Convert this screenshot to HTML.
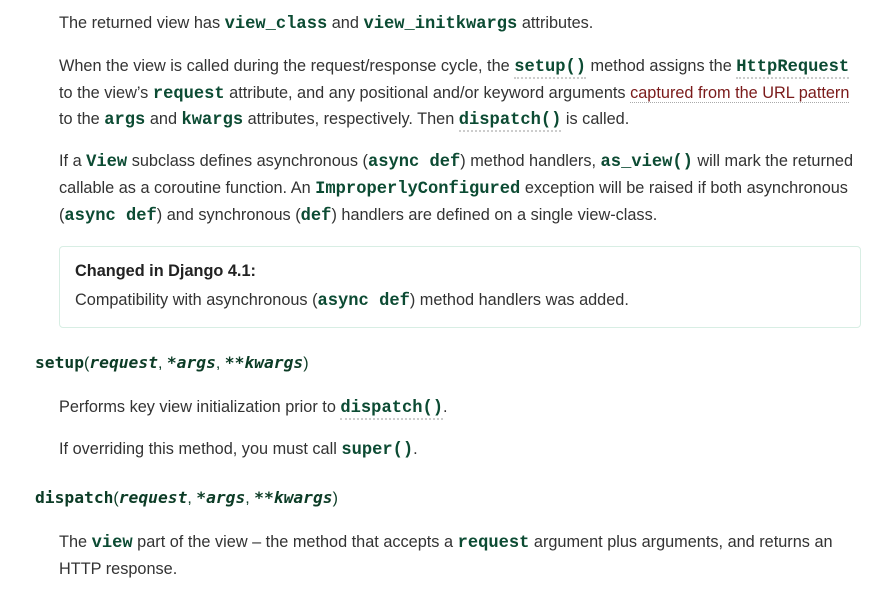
<!DOCTYPE html>
<html><head><meta charset="utf-8"><style>
body{margin:0;width:880px;height:594px;background:#fff;position:relative;overflow:hidden;font-family:"Liberation Sans",sans-serif;font-size:16.3px;color:#333}
.l{position:absolute;white-space:nowrap;line-height:20px}
code{font-family:"Liberation Mono","DejaVu Sans Mono",monospace;font-weight:bold;color:#0c4b33;font-size:17.1px}
.u{border-bottom:2px dotted #ccc}
a{color:#7a1a1a;text-decoration:none;border-bottom:1px dotted #aaa}
.box{position:absolute;left:59px;top:246px;width:800px;height:80px;border:1px solid #d8eee4;border-radius:4px}
.h{font-family:"DejaVu Sans Mono",monospace;font-weight:bold;color:#0c3c26;font-size:16.3px}
.h i{font-style:italic}
.h .s{font-family:"Liberation Sans",sans-serif;font-weight:normal;font-size:16px}
</style></head><body>
<div class="l" style="left:59px;top:13px">The returned view has <code>view_class</code> and <code>view_initkwargs</code> attributes.</div>
<div class="l" style="left:59px;top:56px">When the view is called during the request/response cycle, the <code class="u">setup()</code> method assigns the <code class="u">HttpRequest</code></div>
<div class="l" style="left:59px;top:83px">to the view’s <code>request</code> attribute, and any positional and/or keyword arguments <a>captured from the URL pattern</a></div>
<div class="l" style="left:59px;top:109px">to the <code>args</code> and <code>kwargs</code> attributes, respectively. Then <code class="u">dispatch()</code> is called.</div>
<div class="l" style="left:59px;top:151px">If a <code>View</code> subclass defines asynchronous (<code>async def</code>) method handlers, <code>as_view()</code> will mark the returned</div>
<div class="l" style="left:59px;top:178px">callable as a coroutine function. An <code>ImproperlyConfigured</code> exception will be raised if both asynchronous</div>
<div class="l" style="left:59px;top:205px">(<code>async def</code>) and synchronous (<code>def</code>) handlers are defined on a single view-class.</div>
<div class="box"></div>
<div class="l" style="left:75px;top:261px;font-weight:bold;color:#222">Changed in Django 4.1:</div>
<div class="l" style="left:75px;top:290px">Compatibility with asynchronous (<code>async def</code>) method handlers was added.</div>
<div class="l h" style="left:35px;top:353px">setup<span class="s">(</span><i>request</i><span class="s">, </span><i>*args</i><span class="s">, </span><i>**kwargs</i><span class="s">)</span></div>
<div class="l" style="left:59px;top:397px">Performs key view initialization prior to <code class="u">dispatch()</code>.</div>
<div class="l" style="left:59px;top:439px">If overriding this method, you must call <code>super()</code>.</div>
<div class="l h" style="left:35px;top:488px">dispatch<span class="s">(</span><i>request</i><span class="s">, </span><i>*args</i><span class="s">, </span><i>**kwargs</i><span class="s">)</span></div>
<div class="l" style="left:59px;top:532px">The <code>view</code> part of the view – the method that accepts a <code>request</code> argument plus arguments, and returns an</div>
<div class="l" style="left:59px;top:559px">HTTP response.</div>
</body></html>
